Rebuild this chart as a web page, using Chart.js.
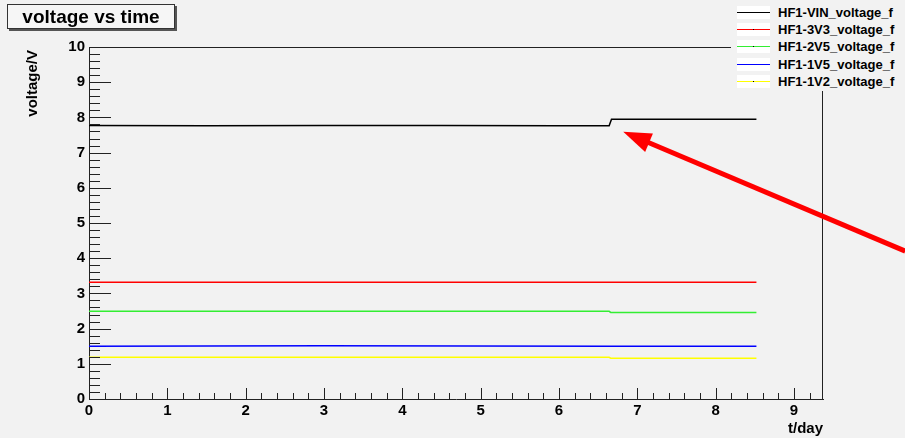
<!DOCTYPE html>
<html>
<head>
<meta charset="utf-8">
<script src="https://cdn.jsdelivr.net/npm/chart.js@4.4.0/dist/chart.umd.min.js"></script>
<style>
  html, body { margin: 0; padding: 0; background: #f2f2f2; }
  #wrap { position: relative; width: 905px; height: 438px; font-family: "Liberation Sans", Arial, sans-serif; }
  #titulo {
    position: absolute; left: 7px; top: 4px; width: 166px; height: 23px;
    background: #f6f6f6; border: 1px solid #333; box-shadow: 2px 2px 0 #555;
    font-weight: bold; font-size: 19px; line-height: 23px; text-align: center; color: #000;
  }
  #legenda {
    position: absolute; left: 731px; top: 0; width: 174px; height: 91px; background: #f2f2f2;
  }
  .linha { position: absolute; left: 0; height: 17px; }
  .amostra { position: absolute; left: 6px; top: 2px; width: 33px; height: 13px; background: #fff; }
  .amostra i { position: absolute; left: 0; right: 0; top: 6px; height: 1px; }
  .amostra b { position: absolute; left: 16px; top: 6px; width: 1px; height: 1px; background: #000; }
  .nome { position: absolute; left: 47px; top: 0; font-weight: bold; font-size: 13px; line-height: 17px; white-space: nowrap; color: #000; }
</style>
</head>
<body>
<div id="wrap">
  <canvas id="grafico" width="905" height="438"></canvas>
  <div id="titulo">voltage vs time</div>
  <div id="legenda"></div>
</div>
<script>
// dados (t em dias, tensão em V)
const nomes = ['HF1-VIN_voltage_f', 'HF1-3V3_voltage_f', 'HF1-2V5_voltage_f', 'HF1-1V5_voltage_f', 'HF1-1V2_voltage_f'];
const cores = ['#000000', '#ff0000', '#33ee33', '#0000ff', '#ffff00'];

const tVIN = [0, 1.5, 3.0, 4.5, 6.0, 6.64, 6.67, 7.5, 8.52];
const vVIN = [7.77, 7.76, 7.77, 7.77, 7.76, 7.76, 7.95, 7.95, 7.95];

const t3V3 = [0, 2.0, 4.0, 6.66, 8.52];
const v3V3 = [3.32, 3.32, 3.32, 3.32, 3.32];

const t2V5 = [0, 3.0, 6.64, 6.66, 8.52];
const v2V5 = [2.49, 2.49, 2.49, 2.46, 2.46];

const t1V5 = [0, 3.0, 6.66, 8.52];
const v1V5 = [1.50, 1.51, 1.50, 1.50];

const t1V2 = [0, 3.0, 6.64, 6.66, 8.52];
const v1V2 = [1.185, 1.185, 1.185, 1.16, 1.16];

const ticksX = [0, 1, 2, 3, 4, 5, 6, 7, 8, 9];
const ticksY = [0, 1, 2, 3, 4, 5, 6, 7, 8, 9, 10];

// seta vermelha (coordenadas nos eixos: t, V)
const setaDe = [10.42, 4.2];
const setaPara = [6.82, 7.59];

const tempos = [tVIN, t3V3, t2V5, t1V5, t1V2];
const tensoes = [vVIN, v3V3, v2V5, v1V5, v1V2];

function montaPontos(ts, vs) {
  return ts.map((t, i) => ({ x: t, y: vs[i] }));
}

const fonte = '"Liberation Sans", Arial, sans-serif';

// marcas de escala para dentro, estilo ROOT, + moldura, títulos e seta
const pluginRoot = {
  id: 'pluginRoot',
  afterDraw(chart) {
    const ctx = chart.ctx;
    const a = chart.chartArea;
    const sx = chart.scales.x;
    const sy = chart.scales.y;
    ctx.save();
    ctx.strokeStyle = '#222';
    ctx.lineWidth = 1;
    ctx.beginPath();
    // topo e lado direito
    ctx.moveTo(a.left, a.top + 0.5); ctx.lineTo(a.right, a.top + 0.5);
    ctx.moveTo(a.right - 0.5, a.top); ctx.lineTo(a.right - 0.5, a.bottom);
    // eixo y
    for (let i = 0; i <= 50; i++) {
      const y = Math.round(sy.getPixelForValue(i * 0.2)) + 0.5;
      const len = i % 5 === 0 ? 22 : 11;
      ctx.moveTo(a.left, y); ctx.lineTo(a.left + len, y);
    }
    // eixo x
    for (let i = 0; i <= 46; i++) {
      const x = Math.round(sx.getPixelForValue(i * 0.2)) + 0.5;
      const len = i % 5 === 0 ? 11 : 6;
      ctx.moveTo(x, a.bottom); ctx.lineTo(x, a.bottom - len);
    }
    ctx.stroke();

    // títulos dos eixos
    ctx.fillStyle = '#000';
    ctx.font = 'bold 15px ' + fonte;
    ctx.textAlign = 'right';
    ctx.textBaseline = 'alphabetic';
    ctx.fillText('t/day', a.right, 433);
    ctx.save();
    ctx.translate(37, 50);
    ctx.rotate(-Math.PI / 2);
    ctx.fillText('voltage/V', 0, 0);
    ctx.restore();

    // seta
    const x0 = sx.getPixelForValue(setaDe[0]), y0 = sy.getPixelForValue(setaDe[1]);
    const x1 = sx.getPixelForValue(setaPara[0]), y1 = sy.getPixelForValue(setaPara[1]);
    const dx = x0 - x1, dy = y0 - y1;
    const d = Math.hypot(dx, dy);
    const ux = dx / d, uy = dy / d;
    const cab = 28, larg = 10;
    const bx = x1 + ux * cab, by = y1 + uy * cab;
    ctx.strokeStyle = '#ff0000';
    ctx.fillStyle = '#ff0000';
    ctx.lineWidth = 5;
    ctx.beginPath();
    ctx.moveTo(x0, y0); ctx.lineTo(bx - ux * 2, by - uy * 2);
    ctx.stroke();
    ctx.beginPath();
    ctx.moveTo(x1, y1);
    ctx.lineTo(bx - uy * larg, by + ux * larg);
    ctx.lineTo(bx + uy * larg, by - ux * larg);
    ctx.closePath();
    ctx.fill();
    ctx.restore();
  }
};

const grafico = new Chart(document.getElementById('grafico'), {
  type: 'scatter',
  data: {
    datasets: nomes.map((nome, i) => ({
      label: nome,
      data: montaPontos(tempos[i], tensoes[i]),
      showLine: true,
      borderColor: cores[i],
      backgroundColor: cores[i],
      borderWidth: 1.5,
      pointRadius: 0,
      tension: 0
    }))
  },
  options: {
    responsive: false,
    animation: false,
    devicePixelRatio: 1,
    layout: { padding: { top: 47, right: 82, left: 0, bottom: 0 } },
    plugins: { legend: { display: false }, tooltip: { enabled: false } },
    scales: {
      x: {
        type: 'linear', min: 0, max: 9.37,
        afterBuildTicks: (s) => { s.ticks = ticksX.map(v => ({ value: v })); },
        afterFit: (s) => { s.height = 39; },
        grid: { display: false, drawTicks: false },
        border: { display: true, color: '#222', width: 1 },
        ticks: { color: '#000', padding: 3, maxRotation: 0, font: { family: fonte, size: 15, weight: 'bold' } }
      },
      y: {
        type: 'linear', min: 0, max: 10,
        afterBuildTicks: (s) => { s.ticks = ticksY.map(v => ({ value: v })); },
        afterFit: (s) => { s.width = 89; },
        grid: { display: false, drawTicks: false },
        border: { display: true, color: '#222', width: 1 },
        ticks: { color: '#000', padding: 4, font: { family: fonte, size: 15, weight: 'bold' } }
      }
    }
  },
  plugins: [pluginRoot]
});

// legenda estilo ROOT
const legenda = document.getElementById('legenda');
nomes.forEach((nome, i) => {
  const linha = document.createElement('div');
  linha.className = 'linha';
  linha.style.top = (4 + i * 17.2) + 'px';
  linha.innerHTML = '<div class="amostra"><i style="background:' + cores[i] + '"></i>' +
    (i === 0 || i === 3 ? '' : '<b></b>') + '</div><div class="nome">' + nome + '</div>';
  legenda.appendChild(linha);
});
</script>
</body>
</html>
